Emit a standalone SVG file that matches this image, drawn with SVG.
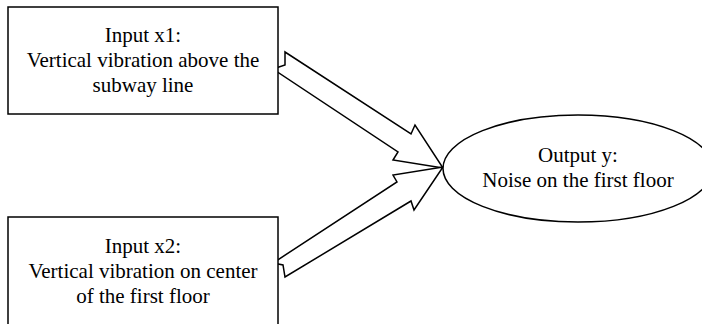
<svg xmlns="http://www.w3.org/2000/svg" width="702" height="324" viewBox="0 0 702 324">
<style>
.box{fill:#fff;stroke:#000;stroke-width:1.5}
.arr{fill:#fff;stroke:#000;stroke-width:1.5;stroke-linejoin:miter}
.t{font-family:"Liberation Serif","Times New Roman",serif;font-size:21px;fill:#000;text-anchor:middle}
</style>
<rect width="702" height="324" fill="#fff"/>
<g id="connectors">
<polygon class="arr" points="285,52 411,134 415,125 443,168 393,160 398,152 273,69 285,65"/>
<polygon class="arr" points="273,263 283,265 285,277 411,201 414,210 443,167 393,175 397,182"/>
</g>
<g id="input-x1">
<rect class="box" x="8" y="7" width="270" height="107"/>
<text class="t" x="143" y="42">Input x1:</text>
<text class="t" x="143" y="67">Vertical vibration above the</text>
<text class="t" x="143" y="92">subway line</text>
</g>
<g id="input-x2">
<rect class="box" x="8" y="217" width="270" height="120"/>
<text class="t" x="143" y="253">Input x2:</text>
<text class="t" x="143" y="278">Vertical vibration on center</text>
<text class="t" x="143" y="303">of the first floor</text>
</g>
<g id="output-y">
<ellipse class="box" cx="578" cy="168.5" rx="135" ry="53.5"/>
<text class="t" x="578" y="162">Output y:</text>
<text class="t" x="578" y="187">Noise on the first floor</text>
</g>
</svg>
